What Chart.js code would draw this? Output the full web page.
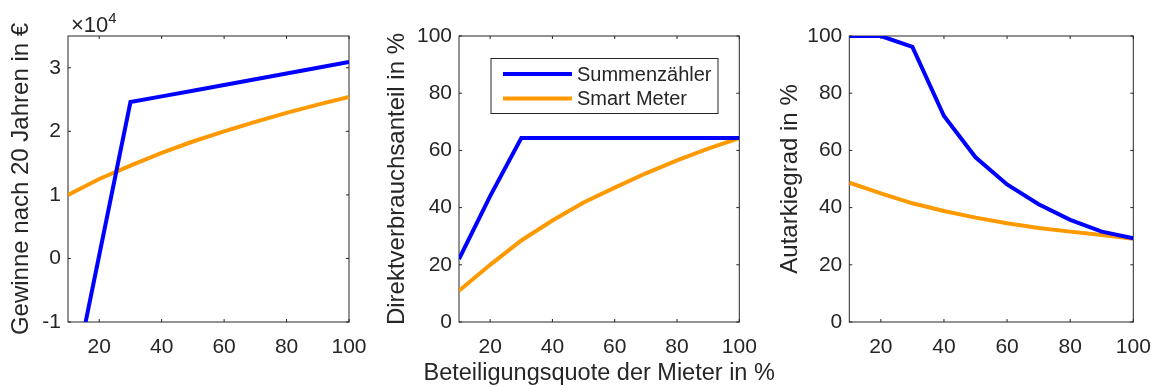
<!DOCTYPE html>
<html>
<head>
<meta charset="utf-8">
<script src="https://cdn.jsdelivr.net/npm/chart.js@4"></script>
<style>
body { margin:0; background:#fff; width:1157px; height:387px; position:relative; overflow:hidden; }
.panel { position:absolute; top:0; height:387px; }
</style>
</head>
<body>
<div class="panel" style="left:0;width:370px"><canvas id="c1"></canvas></div>
<div class="panel" style="left:370px;width:430px"><canvas id="c2"></canvas></div>
<div class="panel" style="left:765px;width:392px"><canvas id="c3"></canvas></div>
<script>
// Beteiligungsquote der Mieter in %
const quote = [10, 20, 30, 40, 50, 60, 70, 80, 90, 100];
const xTicks = [20, 40, 60, 80, 100];
const seriesLabels = ['Summenzähler', 'Smart Meter'];
const xTitle = 'Beteiligungsquote der Mieter in %';

// Gewinne nach 20 Jahren in €
const gewinnSumme = [-23600, 500, 24600, 25500, 26400, 27300, 28200, 29100, 30000, 30900];
const gewinnSmart = [10000, 12500, 14600, 16600, 18400, 20000, 21500, 22900, 24200, 25400];
const gewinnTicks = [-10000, 0, 10000, 20000, 30000];

// Direktverbrauchsanteil in %
const dvSumme = [22, 44, 64.3, 64.3, 64.3, 64.3, 64.3, 64.3, 64.3, 64.3];
const dvSmart = [10.9, 20, 28.5, 35.5, 41.8, 47, 52, 56.5, 60.6, 64.3];

// Autarkiegrad in %
const akSumme = [100, 100, 96.2, 72, 57.6, 48.1, 41.2, 35.7, 31.6, 29.3];
const akSmart = [48.7, 45, 41.5, 38.8, 36.5, 34.5, 32.9, 31.6, 30.4, 29.1];
const pctTicks = [0, 20, 40, 60, 80, 100];

const BLUE = 'rgb(0,0,255)';
const ORANGE = 'rgb(255,153,0)';
const INK = '#262626';
const FONT = '"Liberation Sans", Arial, sans-serif';

// box + inward ticks on all four sides, like matlab
const matlabBox = {
    id: 'matlabBox',
    beforeDatasetsDraw(chart) {
        const { ctx, chartArea: a, scales: { x, y } } = chart;
        ctx.save();
        ctx.strokeStyle = INK;
        ctx.lineWidth = 1;
        ctx.strokeRect(a.left, a.top, a.right - a.left, a.bottom - a.top);
        ctx.beginPath();
        x.ticks.forEach(t => {
            const px = x.getPixelForValue(t.value);
            ctx.moveTo(px, a.bottom); ctx.lineTo(px, a.bottom - 3);
            ctx.moveTo(px, a.top); ctx.lineTo(px, a.top + 3);
        });
        y.ticks.forEach(t => {
            const py = y.getPixelForValue(t.value);
            ctx.moveTo(a.left, py); ctx.lineTo(a.left + 3, py);
            ctx.moveTo(a.right, py); ctx.lineTo(a.right - 3, py);
        });
        ctx.stroke();
        ctx.restore();
    },
    afterDatasetsDraw(chart, args, opts) {
        const { ctx, chartArea: a } = chart;
        ctx.save();
        if (opts.exponent) {
            ctx.fillStyle = INK;
            ctx.textBaseline = 'alphabetic';
            ctx.font = '22px ' + FONT;
            ctx.fillText('×10', a.left + 3, 32);
            const w = ctx.measureText('×10').width;
            ctx.font = '15px ' + FONT;
            ctx.fillText('4', a.left + 3 + w, 23);
        }
        if (opts.xTitle) {
            ctx.fillStyle = INK;
            ctx.font = '23.5px ' + FONT;
            ctx.textAlign = 'center';
            ctx.textBaseline = 'alphabetic';
            ctx.fillText(xTitle, (a.left + a.right) / 2, 380);
            ctx.textAlign = 'left';
        }
        if (opts.legend) {
            const lx = 491, ly = 58.5, lw = 227, lh = 55;
            const left = lx - chart.canvas.parentNode.offsetLeft;
            ctx.fillStyle = '#fff';
            ctx.fillRect(left, ly, lw, lh);
            ctx.strokeStyle = INK;
            ctx.lineWidth = 1;
            ctx.strokeRect(left, ly, lw, lh);
            ctx.font = '20px ' + FONT;
            ctx.textBaseline = 'middle';
            chart.data.datasets.forEach((ds, i) => {
                const rowY = ly + 15.5 + i * 24.5;
                ctx.strokeStyle = ds.borderColor;
                ctx.lineWidth = ds.borderWidth;
                ctx.beginPath();
                ctx.moveTo(left + 12, rowY);
                ctx.lineTo(left + 81, rowY);
                ctx.stroke();
                ctx.fillStyle = INK;
                ctx.fillText(ds.label, left + 86, rowY + 1);
            });
        }
        ctx.restore();
    }
};

function makePanel(id, cfg) {
    const datasets = cfg.series.map((vals, i) => ({
        label: seriesLabels[i],
        data: quote.map((q, k) => ({ x: q, y: vals[k] })),
        borderColor: i === 0 ? BLUE : ORANGE,
        borderWidth: 4,
        pointRadius: 0,
        tension: 0,
        fill: false
    }));
    return new Chart(document.getElementById(id), {
        type: 'line',
        data: { datasets },
        options: {
            responsive: true,
            maintainAspectRatio: false,
            animation: false,
            events: [],
            layout: { padding: { top: 36, right: cfg.padRight, bottom: 0, left: 0 } },
            plugins: {
                legend: { display: false },
                tooltip: { enabled: false },
                matlabBox: { legend: !!cfg.legend, exponent: !!cfg.exponent, xTitle: !!cfg.xTitle }
            },
            scales: {
                x: {
                    type: 'linear',
                    min: 10, max: 100,
                    afterBuildTicks: s => { s.ticks = xTicks.map(v => ({ value: v })); },
                    afterFit: s => { s.height = 65; s.paddingLeft = 0; s.paddingRight = 0; },
                    grid: { display: false, drawTicks: false },
                    border: { display: false },
                    ticks: { color: INK, font: { family: FONT, size: 21 }, padding: 13, maxRotation: 0 }
                },
                y: {
                    type: 'linear',
                    min: cfg.yMin, max: cfg.yMax,
                    afterBuildTicks: s => { s.ticks = cfg.yTicks.map(v => ({ value: v })); },
                    afterFit: s => { s.width = cfg.yWidth; },
                    grid: { display: false, drawTicks: false },
                    border: { display: false },
                    ticks: { color: INK, font: { family: FONT, size: 21 }, padding: 7, callback: cfg.yFmt || (v => String(v)) },
                    title: {
                        display: true,
                        text: cfg.yTitle,
                        color: INK,
                        font: { family: FONT, size: 24 },
                        padding: { top: cfg.yTitlePad, bottom: 0 }
                    }
                }
            }
        },
        plugins: [matlabBox]
    });
}

makePanel('c1', {
    series: [gewinnSumme, gewinnSmart],
    yMin: -10000, yMax: 35000, yTicks: gewinnTicks,
    yFmt: v => String(v / 10000),
    yTitle: 'Gewinne nach 20 Jahren in €',
    yWidth: 68, yTitlePad: 6.5, padRight: 21,
    exponent: true
});

makePanel('c2', {
    series: [dvSumme, dvSmart],
    yMin: 0, yMax: 100, yTicks: pctTicks,
    yTitle: 'Direktverbrauchsanteil in %',
    yWidth: 89, yTitlePad: 12.5, padRight: 60.7,
    legend: true, xTitle: true
});

makePanel('c3', {
    series: [akSumme, akSmart],
    yMin: 0, yMax: 100, yTicks: pctTicks,
    yTitle: 'Autarkiegrad in %',
    yWidth: 84.3, yTitlePad: 10.5, padRight: 23.7
});
</script>
</body>
</html>
